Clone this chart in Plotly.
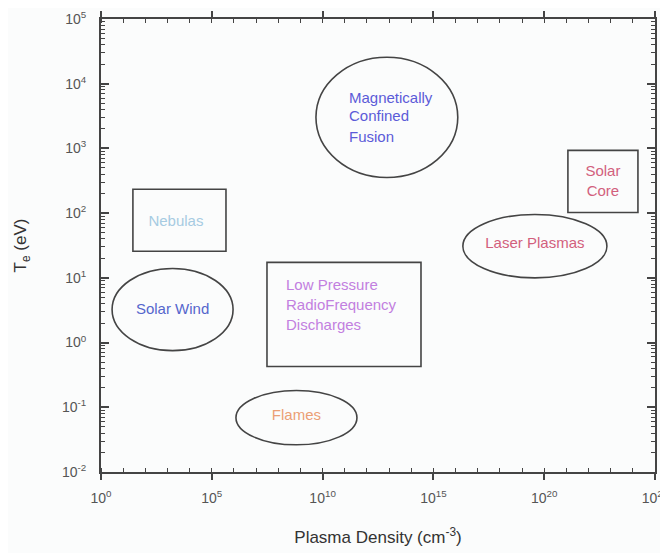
import plotly.graph_objects as go

# ---- data (log10 units) ----
# ellipses: name, center log10(n), center log10(T), half-width (decades), half-height (decades)
ell_names = ["Magnetically Confined Fusion", "Laser Plasmas", "Solar Wind", "Flames"]
ell_cx = [12.9, 19.58, 3.23, 8.82]
ell_cy = [3.48, 1.49, 0.51, -1.16]
ell_rx = [3.2, 3.25, 2.73, 2.73]
ell_ry = [0.93, 0.49, 0.635, 0.42]

# rectangles: log10 x0, x1, y0, y1
rect_names = ["Nebulas", "Solar Core", "Low Pressure RF Discharges"]
rect_x0 = [1.44, 21.07, 7.49]
rect_x1 = [5.64, 24.23, 14.44]
rect_y0 = [1.41, 2.01, -0.37]
rect_y1 = [2.37, 2.97, 1.24]

# text lines: text, log10 x, log10 y, anchor, colour
lab_text = ["Nebulas",
            "Magnetically", "Confined", "Fusion",
            "Solar", "Core",
            "Laser Plasmas",
            "Solar Wind",
            "Low Pressure", "RadioFrequency", "Discharges",
            "Flames"]
lab_x = [3.38, 11.19, 11.19, 11.19, 22.65, 22.65, 19.58, 3.23, 8.35, 8.35, 8.35, 8.82]
lab_y = [1.86, 3.76, 3.48, 3.16, 2.63, 2.32, 1.52, 0.50, 0.867, 0.557, 0.248, -1.14]
lab_pos = ["middle center", "middle right", "middle right", "middle right",
           "middle center", "middle center", "middle center", "middle center",
           "middle right", "middle right", "middle right", "middle center"]
lab_color = ["#a6cbe2", "#5b5bd8", "#5b5bd8", "#5b5bd8", "#d2607c", "#d2607c",
             "#d2607c", "#5566cc", "#c27fe0", "#c27fe0", "#c27fe0", "#eb9f75"]

x_major = [0, 5, 10, 15, 20, 25]
y_major = [-2, -1, 0, 1, 2, 3, 4, 5]

FONT = "Liberation Sans, Arial, sans-serif"

fig = go.Figure()

fig.add_trace(go.Scatter(
    x=[10.0 ** v for v in lab_x], y=[10.0 ** v for v in lab_y],
    mode="text", text=lab_text, textposition=lab_pos,
    textfont=dict(family=FONT, size=15, color=lab_color),
    hoverinfo="skip", showlegend=False, cliponaxis=False))

line_style = dict(color="#444444", width=1.6)
for cx, cy, rx, ry in zip(ell_cx, ell_cy, ell_rx, ell_ry):
    fig.add_shape(type="circle", xref="x", yref="y",
                  x0=10.0 ** (cx - rx), x1=10.0 ** (cx + rx),
                  y0=10.0 ** (cy - ry), y1=10.0 ** (cy + ry), line=line_style)
for a, b, c, d in zip(rect_x0, rect_x1, rect_y0, rect_y1):
    fig.add_shape(type="rect", xref="x", yref="y",
                  x0=10.0 ** a, x1=10.0 ** b, y0=10.0 ** c, y1=10.0 ** d, line=line_style)

tickfont = dict(family=FONT, size=14, color="#555555")
fig.update_xaxes(
    type="log", range=[0, 25], automargin=False,
    tickvals=[10.0 ** v for v in x_major],
    ticktext=[f"10<sup>{v}</sup>" for v in x_major],
    ticks="outside", ticklen=6, tickwidth=1.5, tickcolor="#444444",
    ticklabelstandoff=6, ticklabeloverflow="allow",
    minor=dict(tickvals=[10.0 ** v for v in range(0, 26)], ticks="inside",
               ticklen=4, tickwidth=1.3, tickcolor="#444444", showgrid=False),
    showline=True, linecolor="#444444", linewidth=2, mirror="ticks",
    showgrid=False, zeroline=False, tickfont=tickfont,
    title=dict(text="Plasma Density (cm<sup>-3</sup>)",
               font=dict(family=FONT, size=17, color="#333333"),
               standoff=26))
fig.update_yaxes(
    type="log", range=[-2, 5], automargin=False,
    tickvals=[10.0 ** v for v in y_major],
    ticktext=[f"10<sup>{v}</sup>" for v in y_major],
    ticks="inside", ticklen=8, tickwidth=2, tickcolor="#444444",
    ticklabelstandoff=10, ticklabeloverflow="allow",
    minor=dict(tickvals=[k * 10.0 ** e for e in range(-2, 5) for k in range(2, 10)],
               ticks="inside", ticklen=4, tickwidth=1.3, tickcolor="#444444", showgrid=False),
    showline=True, linecolor="#444444", linewidth=2, mirror="ticks",
    showgrid=False, zeroline=False, tickfont=tickfont,
    title=dict(text="T<sub>e</sub> (eV)",
               font=dict(family=FONT, size=17, color="#333333"),
               standoff=31))

# page body adds an 8px margin, so the figure is sized/offset to land on the reference
fig.update_layout(
    width=660, height=545,
    margin=dict(l=93, r=13, t=11, b=81),
    paper_bgcolor="#fbfcfc", plot_bgcolor="#fbfcfc",
    showlegend=False)

fig.write_html("out.html")
